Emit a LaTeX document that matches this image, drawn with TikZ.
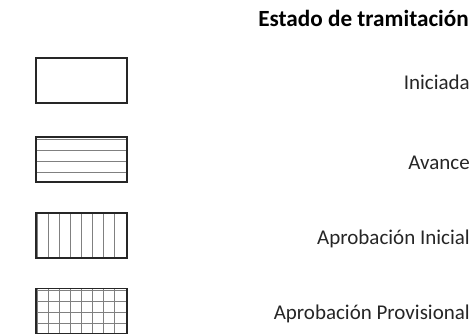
\documentclass[tikz,border=0pt]{standalone}
\usepackage{fontspec}
\setmainfont{Carlito}
\usepackage{tikz}
\usetikzlibrary{calc,backgrounds}

\tikzset{
  legendbox/.style={draw=black!85, line width=1.3pt, minimum width=91pt,
    minimum height=45pt, inner sep=0pt},
  hatch/.style={black!50, line width=1pt},
  legendtext/.style={anchor=base east, inner sep=0pt, text=black!85,
    font=\fontsize{21}{25}\selectfont},
}

\begin{document}
\begin{tikzpicture}[x=1pt,y=-1pt]
\useasboundingbox (0,0) rectangle (475,335);

\node[anchor=base east, inner sep=0pt, font=\fontsize{23.2}{27}\selectfont\bfseries]
  (title) at (469,26.7) {Estado de tramitación};

% boxes
\node[legendbox] (b1) at (81.5,80.5) {};
\node[legendbox] (b2) at (81.5,159.5) {};
\node[legendbox] (b3) at (81.5,235.5) {};
\node[legendbox] (b4) at (81.5,311) {};

%-------------------------------------
\begin{scope}[on background layer]
\foreach \k in {0,...,3} {
  \draw[hatch] ($(b2.north west)+(0,3+11*\k)$) -- ($(b2.north east)+(0,3+11*\k)$);
  \draw[hatch] ($(b4.north west)+(0,3+11*\k)$) -- ($(b4.north east)+(0,3+11*\k)$);
}
\foreach \k in {0,...,7} {
  \draw[hatch] ($(b3.north west)+(2.5+11*\k,0)$) -- ($(b3.south west)+(2.5+11*\k,0)$);
  \draw[hatch] ($(b4.north west)+(2.5+11*\k,0)$) -- ($(b4.south west)+(2.5+11*\k,0)$);
}
\end{scope}

%-------------------------------------
\node[legendtext] (t1) at (470,89.3) {Iniciada};
\node[legendtext] (t2) at (470,169.3) {Avance};
\node[legendtext] (t3) at (470,244) {Aprobación Inicial};
\node[legendtext] (t4) at (470,319.3) {Aprobación Provisional};
\end{tikzpicture}
\end{document}
